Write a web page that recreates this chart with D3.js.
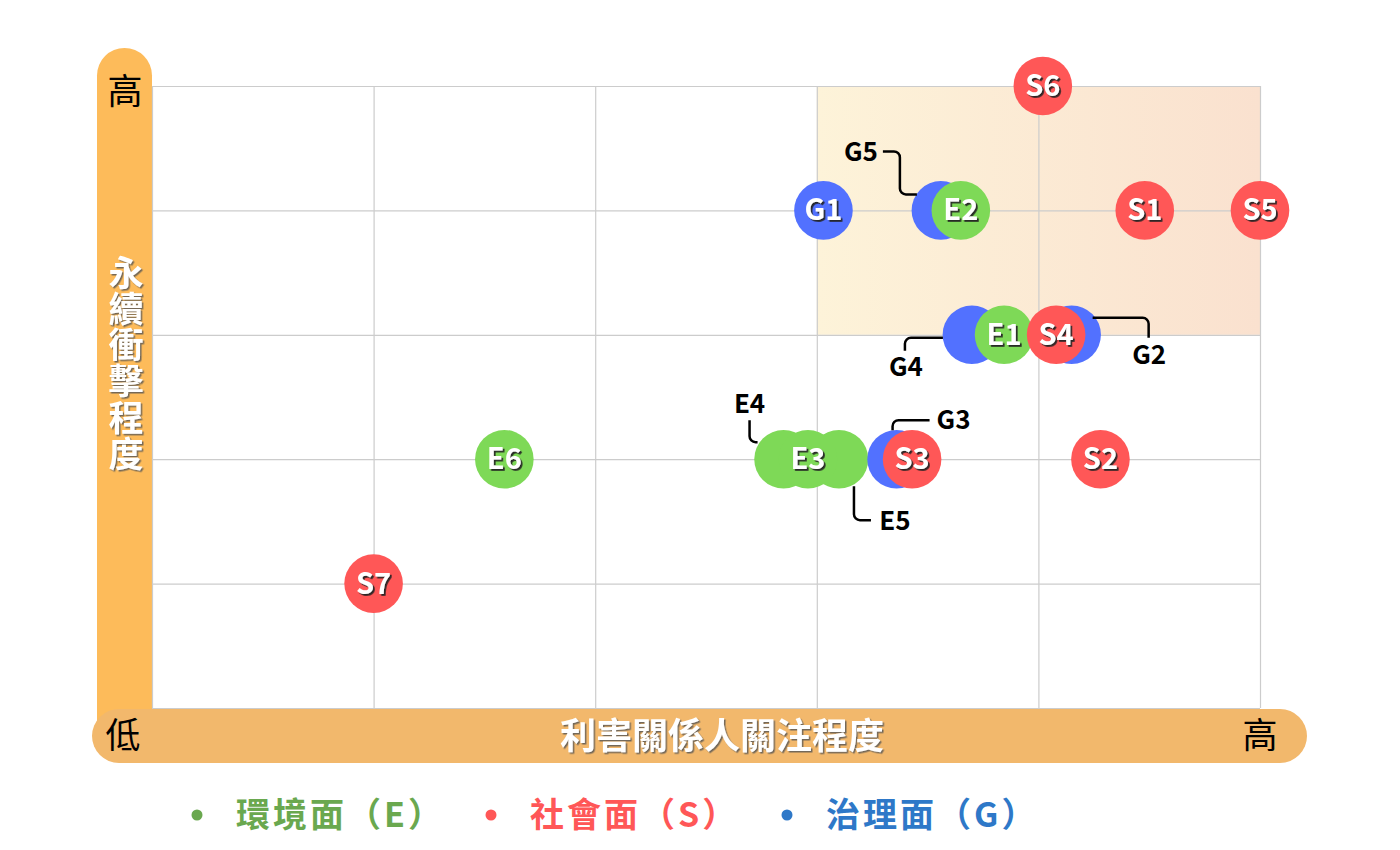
<!DOCTYPE html>
<html>
<head>
<meta charset="utf-8">
<script src="https://cdn.jsdelivr.net/npm/d3@7"></script>
<style>
  html, body { margin: 0; padding: 0; background: #fff; }
  svg { display: block; font-family: "Noto Sans CJK TC", "Noto Sans", sans-serif; }
</style>
</head>
<body>
<svg id="chart" width="1400" height="850"></svg>
<script>
// ---- data ----
const pointIds = ["S6","G1","G5","E2","S1","S5","G4","G2","E1","S4","E4","E5","E3","G3","S3","S2","E6","S7"];
const stakeholderConcern = [4.02,3.03,3.56,3.65,4.48,5.00,3.70,4.15,3.845,4.08,2.85,3.10,2.96,3.36,3.43,4.28,1.59,1.00];
const sustainabilityImpact = [5,4,4,4,4,4,3,3,3,3,2,2,2,2,2,2,2,1];
const gridTicks = [0,1,2,3,4,5];
const groupKeys = ["E","S","G"];
const legendLabels = ["環境面（E）","社會面（S）","治理面（G）"];
const xAxisTitle = "利害關係人關注程度";
const yAxisTitle = "永續衝擊程度";
const lowLabel = "低";
const highLabel = "高";
const highlightX = [3,5];
const highlightY = [3,5];

// ---- layout / style ----
const circleColor = { E: "#7ED957", S: "#FF5757", G: "#5271FF" };
const legendColor = { E: "#6AA84F", S: "#FF5757", G: "#2E78C8" };
const R = 29.3;
// callout offsets relative to point centre (pixels): path points & label position
const callouts = {
  G5: { pts: [[-58,-59],[-41,-59],[-41,-16],[-24,-16]], label: [-80,-49] },
  G4: { pts: [[-29,3],[-67,3],[-67,16]], label: [-66,41] },
  G2: { pts: [[21,-17],[77,-17],[77,3]], label: [77.5,29] },
  E4: { pts: [[-34,-39],[-34,-17],[-26,-17]], label: [-34,-46] },
  E5: { pts: [[15,27],[15,61],[32,61]], label: [56,71] },
  G3: { pts: [[-4,-29],[-4,-39],[33,-39]], label: [57,-30] }
};

const svg = d3.select("#chart");
const pLeft = 152, pRight = 1260, pTop = 86, pBottom = 708;
const x = d3.scaleLinear().domain([0,5]).range([pLeft,pRight]);
const y = d3.scaleLinear().domain([0,5]).range([pBottom,pTop]);

const defs = svg.append("defs");
const grad = defs.append("linearGradient").attr("id","hl").attr("x1","0%").attr("x2","100%");
grad.append("stop").attr("offset","0%").attr("stop-color","#FDF3D9");
grad.append("stop").attr("offset","100%").attr("stop-color","#FAE1CF");
const sh = defs.append("filter").attr("id","shadow").attr("x","-20%").attr("y","-20%").attr("width","140%").attr("height","140%");
sh.append("feDropShadow").attr("dx",1.8).attr("dy",1.8).attr("stdDeviation",0.4).attr("flood-color","#222").attr("flood-opacity",0.95);
const sh2 = defs.append("filter").attr("id","shadow2").attr("x","-20%").attr("y","-20%").attr("width","140%").attr("height","140%");
sh2.append("feDropShadow").attr("dx",1.5).attr("dy",1.5).attr("stdDeviation",0.6).attr("flood-color","#555").attr("flood-opacity",0.8);

// highlight area
svg.append("rect")
  .attr("x", x(highlightX[0])).attr("y", y(highlightY[1]))
  .attr("width", x(highlightX[1]) - x(highlightX[0]))
  .attr("height", y(highlightY[0]) - y(highlightY[1]))
  .attr("fill","url(#hl)");

// vertical orange bar
svg.append("rect").attr("x",97).attr("y",48).attr("width",55).attr("height",700).attr("rx",27.5).attr("fill","#FDBB5A");

// grid via axes
const gx = svg.append("g").attr("transform",`translate(0,${pBottom})`)
  .call(d3.axisBottom(x).tickValues(gridTicks).tickSize(-(pBottom-pTop)).tickFormat(""));
const gy = svg.append("g").attr("transform",`translate(${pLeft},0)`)
  .call(d3.axisLeft(y).tickValues(gridTicks).tickSize(-(pRight-pLeft)).tickFormat(""));
[gx,gy].forEach(g => {
  g.select(".domain").remove();
  g.selectAll(".tick line").attr("stroke","#CCCCCC").attr("stroke-width",1.2);
});

// bottom bar
svg.append("rect").attr("x",92).attr("y",709).attr("width",1215).attr("height",54).attr("rx",27).attr("fill","#F2B86C");

// axis labels
svg.append("text").attr("x",125).attr("y",104).attr("text-anchor","middle").attr("font-size",35).attr("fill","#000").text(highLabel);
svg.append("text").attr("x",123).attr("y",748).attr("text-anchor","middle").attr("font-size",35).attr("fill","#000").text(lowLabel);
svg.append("text").attr("x",1260).attr("y",748).attr("text-anchor","middle").attr("font-size",35).attr("fill","#000").text(highLabel);
svg.append("text").attr("x",722).attr("y",749).attr("text-anchor","middle").attr("font-size",36).attr("font-weight",700)
  .attr("fill","#fff").attr("filter","url(#shadow2)").text(xAxisTitle);
svg.append("text").attr("x",126).attr("y",255)
  .style("writing-mode","vertical-rl").style("text-orientation","upright")
  .attr("font-size",35).attr("letter-spacing",1.2).attr("font-weight",700)
  .attr("fill","#fff").attr("filter","url(#shadow2)").text(yAxisTitle);

// points
const pts = pointIds.map((id,i)=>({id, g:id[0], x:stakeholderConcern[i], y:sustainabilityImpact[i]}));
const gp = svg.append("g");
gp.selectAll("circle").data(pts).join("circle")
  .attr("cx",d=>x(d.x)).attr("cy",d=>y(d.y)).attr("r",R).attr("fill",d=>circleColor[d.g]);

gp.selectAll("text.in").data(pts.filter(d=>!callouts[d.id])).join("text").attr("class","in")
  .attr("x",d=>x(d.x)).attr("y",d=>y(d.y)+10).attr("text-anchor","middle")
  .attr("font-size",29).attr("font-weight",700).attr("fill","#fff").attr("filter","url(#shadow)")
  .text(d=>d.id);

// callouts
function roundedPath(points, r) {
  const p = d3.path();
  p.moveTo(points[0][0], points[0][1]);
  for (let i=1;i<points.length-1;i++) p.arcTo(points[i][0],points[i][1],points[i+1][0],points[i+1][1],r);
  const last = points[points.length-1];
  p.lineTo(last[0], last[1]);
  return p.toString();
}
const cpts = pts.filter(d=>callouts[d.id]);
const gc = svg.append("g");
gc.selectAll("path").data(cpts).join("path")
  .attr("d",d=>{ const cx=x(d.x), cy=y(d.y); return roundedPath(callouts[d.id].pts.map(p=>[cx+p[0],cy+p[1]]),6); })
  .attr("fill","none").attr("stroke","#000").attr("stroke-width",2.5);
gc.selectAll("text").data(cpts).join("text")
  .attr("x",d=>x(d.x)+callouts[d.id].label[0]).attr("y",d=>y(d.y)+callouts[d.id].label[1])
  .attr("text-anchor","middle").attr("font-size",26).attr("font-weight",700).attr("fill","#000")
  .text(d=>d.id);

// legend
const legendX = [197,491,787];
const gl = svg.append("g");
groupKeys.forEach((k,i)=>{
  gl.append("circle").attr("cx",legendX[i]).attr("cy",815).attr("r",5.5).attr("fill",legendColor[k]);
  gl.append("text").attr("x",legendX[i]+39).attr("y",827).attr("font-size",34).attr("font-weight",700)
    .attr("letter-spacing",3).attr("fill",legendColor[k]).text(legendLabels[i]);
});
</script>
</body>
</html>
